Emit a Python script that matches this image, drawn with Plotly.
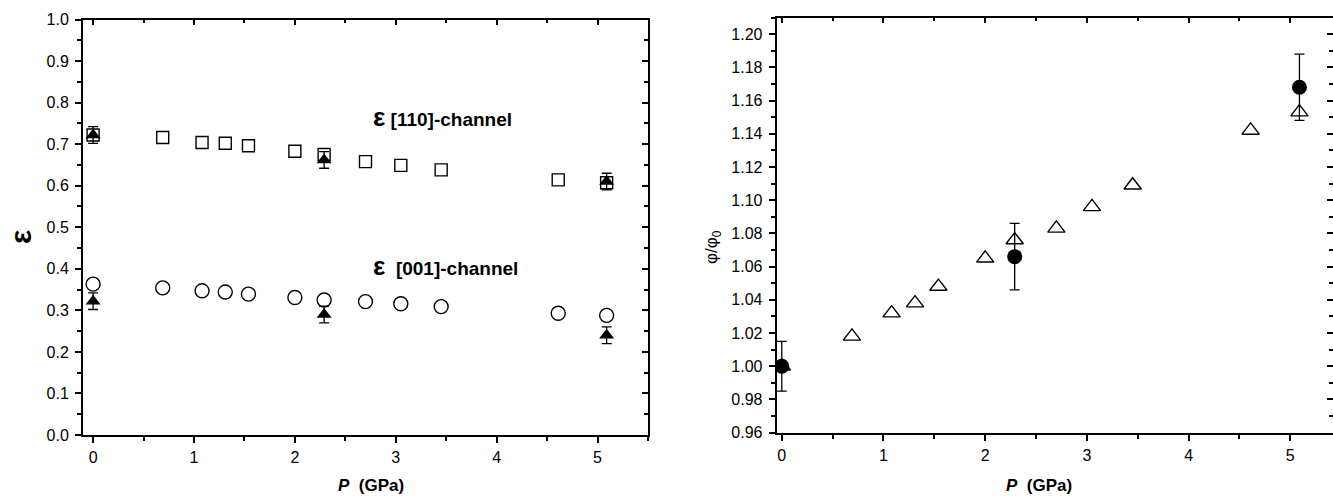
import plotly.graph_objects as go

# ---------------- data ----------------
P = [0, 0.69, 1.08, 1.31, 1.54, 2.0, 2.29, 2.7, 3.05, 3.45, 4.61, 5.09]
eps110 = [0.722, 0.716, 0.704, 0.702, 0.696, 0.683, 0.675, 0.658, 0.649, 0.638, 0.614, 0.607]
eps001 = [0.363, 0.354, 0.347, 0.344, 0.339, 0.331, 0.325, 0.321, 0.316, 0.309, 0.293, 0.288]

P_exp = [0, 2.29, 5.09]
eps110_exp = [0.722, 0.662, 0.610]
eps110_err = [0.02, 0.02, 0.02]
eps001_exp = [0.322, 0.290, 0.240]
eps001_err = [0.02, 0.02, 0.02]

phi_calc = [1.000, 1.018, 1.032, 1.038, 1.048, 1.065, 1.076, 1.083, 1.096, 1.109, 1.142, 1.153]
phi_exp = [1.000, 1.066, 1.168]
phi_err = [0.015, 0.02, 0.02]

x_ticks = [0, 1, 2, 3, 4, 5]

# ---------------- layout geometry ----------------
W, H = 1333, 496
def px(x): return x / W
def py(y): return (H - y) / H

L_dom_x = [px(83), px(648)]
L_dom_y = [py(435), py(19.5)]
R_dom_x = [px(776.7), 1.0]
R_dom_y = [py(432.7), py(17.5)]

FONT = "Arial, Liberation Sans, sans-serif"
BLACK = "#000000"

fig = go.Figure()

# left panel
fig.add_trace(go.Scatter(x=P, y=eps110, mode="markers", xaxis="x", yaxis="y",
                         marker=dict(symbol="square-open", size=12, color=BLACK, line=dict(width=1.4, color=BLACK)),
                         showlegend=False))
fig.add_trace(go.Scatter(x=P, y=eps001, mode="markers", xaxis="x", yaxis="y",
                         marker=dict(symbol="circle-open", size=14, color=BLACK, line=dict(width=1.4, color=BLACK)),
                         showlegend=False))
fig.add_trace(go.Scatter(x=P_exp, y=eps110_exp, mode="markers", xaxis="x", yaxis="y",
                         error_y=dict(type="data", array=eps110_err, color=BLACK, thickness=1.3, width=5),
                         marker=dict(symbol="triangle-up", size=13, color=BLACK),
                         showlegend=False))
fig.add_trace(go.Scatter(x=P_exp, y=eps001_exp, mode="markers", xaxis="x", yaxis="y",
                         error_y=dict(type="data", array=eps001_err, color=BLACK, thickness=1.3, width=5),
                         marker=dict(symbol="triangle-up", size=13, color=BLACK),
                         showlegend=False))

# right panel
fig.add_trace(go.Scatter(x=P, y=phi_calc, mode="markers", xaxis="x2", yaxis="y2",
                         marker=dict(symbol="triangle-up-open", size=15, color=BLACK, line=dict(width=1.4, color=BLACK)),
                         showlegend=False))
fig.add_trace(go.Scatter(x=P_exp, y=phi_exp, mode="markers", xaxis="x2", yaxis="y2",
                         error_y=dict(type="data", array=phi_err, color=BLACK, thickness=1.3, width=5),
                         marker=dict(symbol="circle", size=15, color=BLACK),
                         showlegend=False))

# invisible traces for mirrored inner-tick axes
fig.add_trace(go.Scatter(x=P, y=eps110, mode="markers", xaxis="x3", yaxis="y3",
                         marker=dict(opacity=0), hoverinfo="skip", showlegend=False))
fig.add_trace(go.Scatter(x=P, y=phi_calc, mode="markers", xaxis="x4", yaxis="y4",
                         marker=dict(opacity=0), hoverinfo="skip", showlegend=False))

tickfont = dict(family=FONT, size=16, color=BLACK)

common_main = dict(showline=True, linecolor=BLACK, linewidth=2, ticks="outside",
                   tickcolor=BLACK, tickwidth=1.5, ticklen=6, tickfont=tickfont,
                   showgrid=False, zeroline=False, automargin=False)
common_mirror = dict(showline=True, linecolor=BLACK, linewidth=1.5, ticks="inside",
                     tickcolor=BLACK, tickwidth=1.5, ticklen=6, showticklabels=False,
                     showgrid=False, zeroline=False, automargin=False)

fig.update_layout(
    width=W, height=H, autosize=False,
    margin=dict(l=0, r=0, t=0, b=0, pad=0, autoexpand=False),
    paper_bgcolor="white", plot_bgcolor="white",
    font=dict(family=FONT, color=BLACK),
    xaxis=dict(domain=L_dom_x, anchor="y", range=[-0.1, 5.5], tickvals=x_ticks, ticklabelstandoff=1,
               minor=dict(ticks="outside", dtick=0.5, ticklen=4, tickcolor=BLACK, tickwidth=1.5),
               **common_main),
    yaxis=dict(domain=L_dom_y, anchor="x", range=[0, 1.0], dtick=0.1, tickformat=".1f", ticklabelstandoff=3,
               minor=dict(ticks="outside", dtick=0.05, ticklen=4, tickcolor=BLACK, tickwidth=1.5),
               **common_main),
    xaxis3=dict(overlaying="x", anchor="y", side="top", range=[-0.1, 5.5], tickvals=x_ticks,
                minor=dict(ticks="inside", dtick=0.5, ticklen=4, tickcolor=BLACK, tickwidth=1.5),
                **common_mirror),
    yaxis3=dict(overlaying="y", anchor="x", side="right", range=[0, 1.0], dtick=0.1,
                minor=dict(ticks="inside", dtick=0.05, ticklen=4, tickcolor=BLACK, tickwidth=1.5),
                **common_mirror),
    xaxis2=dict(domain=R_dom_x, anchor="y2", range=[-0.05, 5.42], tickvals=x_ticks, ticklabelstandoff=1,
                minor=dict(ticks="outside", dtick=0.5, ticklen=4, tickcolor=BLACK, tickwidth=1.5),
                **common_main),
    yaxis2=dict(domain=R_dom_y, anchor="x2", range=[0.96, 1.21], dtick=0.02, tickformat=".2f", ticklabelstandoff=3,
                minor=dict(ticks="outside", dtick=0.01, ticklen=4, tickcolor=BLACK, tickwidth=1.5),
                **common_main),
    xaxis4=dict(overlaying="x2", anchor="y2", side="top", range=[-0.05, 5.42], tickvals=x_ticks,
                minor=dict(ticks="inside", dtick=0.5, ticklen=4, tickcolor=BLACK, tickwidth=1.5),
                **common_mirror),
    yaxis4=dict(overlaying="y2", anchor="x2", side="right", range=[0.96, 1.21], dtick=0.02,
                minor=dict(ticks="inside", dtick=0.01, ticklen=4, tickcolor=BLACK, tickwidth=1.5),
                **common_mirror),
)

def ann(x, y, text, size, angle=0, xanchor="center", yanchor="middle"):
    return dict(x=px(x), y=py(y), xref="paper", yref="paper", text=text,
                textangle=angle, showarrow=False, xanchor=xanchor, yanchor=yanchor,
                borderpad=0, font=dict(family=FONT, size=size, color=BLACK))

annots = [
    ann(21, 237, "<b>ε</b>", 30, angle=-90),
    ann(713, 247, "φ/φ<sub>0</sub>", 17, angle=-90),
    ann(371, 495.5, "<b><i>P</i>  (GPa)</b>", 17, yanchor="bottom"),
    ann(1039, 495.5, "<b><i>P</i>  (GPa)</b>", 17, yanchor="bottom"),
    ann(372, 117, "<b><span style='font-size:26px'>ε</span> [110]-channel</b>", 19, xanchor="left"),
    ann(372, 266, "<b><span style='font-size:26px'>ε</span>  [001]-channel</b>", 19, xanchor="left"),
]
fig.update_layout(annotations=annots)

fig.write_html("out.html", config={"responsive": False})
